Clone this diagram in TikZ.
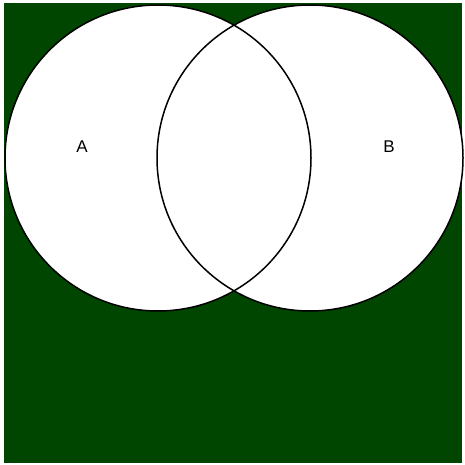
\documentclass[tikz,border=0pt]{standalone}
\usepackage{fontspec}
\setsansfont{Liberation Sans}
\usepackage{tikz}
\usetikzlibrary{positioning}

\definecolor{bggreen}{RGB}{0,70,0}

\begin{document}
\begin{tikzpicture}[x=1pt,y=-1pt, font=\sffamily\fontsize{17}{19}\selectfont]
  % frame
  \useasboundingbox (0,0) rectangle (464,465);
  \fill[white] (0,0) rectangle (464,465);
  \fill[bggreen] (4,3) rectangle (462,463);

  % the two sets
  \fill[white] (158,158) circle (153);
  \fill[white] (310,158) circle (153);
  \draw[black,line width=1.5pt] (158,158) circle (153);
  \draw[black,line width=1.5pt] (310,158) circle (153);

  \node (labA) at (82,147) {A};
  \node (labB) at (389,147) {B};
\end{tikzpicture}
\end{document}
